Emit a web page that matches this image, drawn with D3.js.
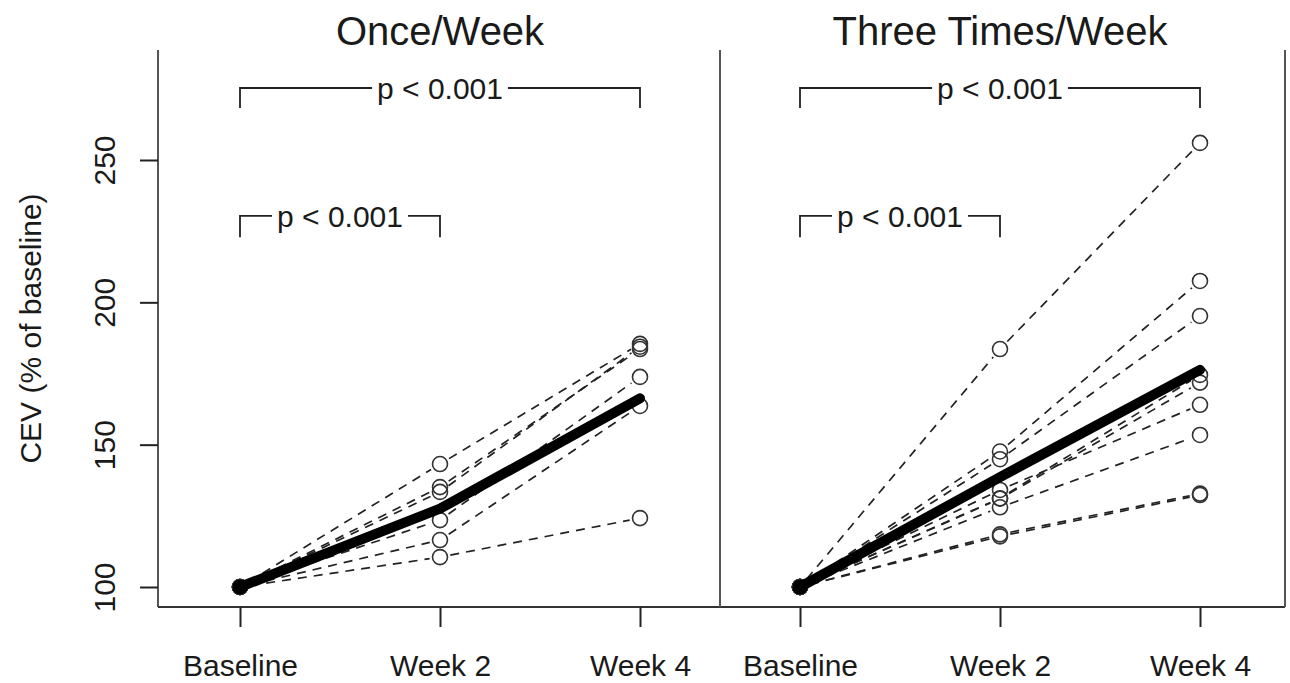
<!DOCTYPE html>
<html>

<head>
    <meta charset="utf-8">
    <title>CEV by training frequency</title>
    <script src="https://d3js.org/d3.v7.min.js"></script>
    <style>
        html,
        body {
            margin: 0;
            padding: 0;
            background: white;
        }

        text {
            font-family: "Liberation Sans", Arial, Helvetica, sans-serif;
            fill: #1a1a1a;
        }
    </style>
</head>

<body>

    <div id="chart"></div>

    <script>
        // Time points on the x axis
        const timepoints = ["Baseline", "Week 2", "Week 4"];

        // Once/Week group, one value per subject (% of baseline)
        const onceBaseline = [100, 100, 100, 100, 100, 100];
        const onceWeek2 = [143.2, 135.1, 133.4, 123.5, 116.5, 110.5];
        const onceWeek4 = [185.4, 183.6, 184.4, 173.8, 163.6, 124.2];
        const onceMean = [100, 127.5, 166.3];

        // Three Times/Week group
        const threeBaseline = [100, 100, 100, 100, 100, 100, 100, 100, 100];
        const threeWeek2 = [183.6, 147.6, 144.9, 134.1, 131.2, 131.0, 128.0, 118.5, 117.8];
        const threeWeek4 = [256.0, 207.5, 195.2, 164.0, 174.5, 171.8, 153.4, 132.8, 132.3];
        const threeMean = [100, 138.6, 176.3];

        // y ticks and labels
        const yTicks = [100, 150, 200, 250];
        const panelTitles = ["Once/Week", "Three Times/Week"];
        const pLabel = "p < 0.001";
        const yLabel = "CEV (% of baseline)";

        // Layout
        const width = 1290, height = 683;
        const plotLeft = 158, plotRight = 1285, plotTop = 50, plotBottom = 607, divider = 720;

        const svg = d3.select("#chart")
            .append("svg")
            .attr("width", width)
            .attr("height", height);

        const yScale = d3.scaleLinear()
            .domain([100, 250])
            .range([587, 160]);

        // build subject rows from the arrays
        const toSubjects = (b, w2, w4) => b.map((v, i) => [v, w2[i], w4[i]]);

        const panels = [
            { title: panelTitles[0], subjects: toSubjects(onceBaseline, onceWeek2, onceWeek4), mean: onceMean, range: [240, 640] },
            { title: panelTitles[1], subjects: toSubjects(threeBaseline, threeWeek2, threeWeek4), mean: threeMean, range: [800, 1200] }
        ];

        // frame: left axis, bottom, divider, right edge
        const frame = svg.append("g").attr("stroke", "#555").attr("stroke-width", 2);
        frame.append("line").attr("x1", plotLeft).attr("x2", plotLeft).attr("y1", plotTop).attr("y2", plotBottom);
        frame.append("line").attr("x1", plotLeft).attr("x2", plotRight).attr("y1", plotBottom).attr("y2", plotBottom).attr("stroke", "#333");
        frame.append("line").attr("x1", divider).attr("x2", divider).attr("y1", plotTop).attr("y2", plotBottom);
        frame.append("line").attr("x1", plotRight).attr("x2", plotRight).attr("y1", plotTop).attr("y2", plotBottom);

        // y axis
        const yAxis = svg.append("g")
            .attr("transform", `translate(${plotLeft},0)`)
            .call(d3.axisLeft(yScale).tickValues(yTicks).tickSize(18).tickFormat(d3.format("d")));
        yAxis.select(".domain").remove();
        yAxis.selectAll(".tick line").attr("stroke", "#222").attr("stroke-width", 2);
        yAxis.selectAll(".tick text")
            .attr("x", 0)
            .attr("y", -43)
            .attr("dy", 0)
            .attr("transform", "rotate(-90)")
            .attr("text-anchor", "middle")
            .style("font-size", "30px")
            .attr("fill", "#1a1a1a");

        svg.append("text")
            .attr("transform", `translate(41,${(plotTop + plotBottom) / 2}) rotate(-90)`)
            .attr("text-anchor", "middle")
            .style("font-size", "30px")
            .text(yLabel);

        const r = 7.5;
        const gap = r + 3;

        panels.forEach((p) => {
            const xScale = d3.scalePoint().domain(timepoints).range(p.range);
            const cx = (p.range[0] + p.range[1]) / 2;

            // x axis
            const xAxis = svg.append("g")
                .attr("transform", `translate(0,${plotBottom})`)
                .call(d3.axisBottom(xScale).tickSize(20).tickPadding(28));
            xAxis.select(".domain").remove();
            xAxis.selectAll(".tick line").attr("stroke", "#222").attr("stroke-width", 2);
            xAxis.selectAll(".tick text").style("font-size", "30px").attr("fill", "#1a1a1a");

            // title
            svg.append("text")
                .attr("x", cx)
                .attr("y", 45)
                .attr("text-anchor", "middle")
                .style("font-size", "40px")
                .text(p.title);

            // subject lines, broken around the points
            const g = svg.append("g");
            p.subjects.forEach((s) => {
                for (let i = 0; i < s.length - 1; i++) {
                    const x1 = xScale(timepoints[i]), y1 = yScale(s[i]);
                    const x2 = xScale(timepoints[i + 1]), y2 = yScale(s[i + 1]);
                    const len = Math.hypot(x2 - x1, y2 - y1);
                    const ux = (x2 - x1) / len, uy = (y2 - y1) / len;
                    g.append("line")
                        .attr("x1", x1 + ux * gap).attr("y1", y1 + uy * gap)
                        .attr("x2", x2 - ux * gap).attr("y2", y2 - uy * gap)
                        .attr("stroke", "#222")
                        .attr("stroke-width", 1.7)
                        .attr("stroke-dasharray", "9,7");
                }
            });

            // subject points
            p.subjects.forEach((s) => {
                g.selectAll(null)
                    .data(s)
                    .enter()
                    .append("circle")
                    .attr("cx", (d, i) => xScale(timepoints[i]))
                    .attr("cy", (d) => yScale(d))
                    .attr("r", r)
                    .attr("fill", "none")
                    .attr("stroke", "#333")
                    .attr("stroke-width", 1.6);
            });

            // group mean
            const line = d3.line()
                .x((d, i) => xScale(timepoints[i]))
                .y((d) => yScale(d));
            svg.append("path")
                .datum(p.mean)
                .attr("fill", "none")
                .attr("stroke", "black")
                .attr("stroke-width", 10)
                .attr("stroke-linecap", "round")
                .attr("stroke-linejoin", "round")
                .attr("d", line);
            svg.append("circle")
                .attr("cx", xScale(timepoints[0]))
                .attr("cy", yScale(p.mean[0]))
                .attr("r", 7.5)
                .attr("fill", "black");

            // significance brackets
            const brackets = [
                { from: timepoints[0], to: timepoints[2], level: 275.3, drop: 7 },
                { from: timepoints[0], to: timepoints[1], level: 230.4, drop: 7.5 }
            ];
            brackets.forEach((b) => {
                const xa = xScale(b.from), xb = xScale(b.to);
                const yb = yScale(b.level), yd = yScale(b.level - b.drop);
                const mid = (xa + xb) / 2;
                const t = svg.append("text")
                    .attr("x", mid)
                    .attr("y", yb + 11)
                    .attr("text-anchor", "middle")
                    .style("font-size", "30px")
                    .text(pLabel);
                const half = t.node().getComputedTextLength() / 2 + 5;
                const bg = svg.append("g").attr("stroke", "#222").attr("stroke-width", 1.8).attr("fill", "none");
                bg.append("path").attr("d", `M${xa},${yd}V${yb}H${mid - half}`);
                bg.append("path").attr("d", `M${mid + half},${yb}H${xb}V${yd}`);
            });
        });
    </script>
</body>

</html>
